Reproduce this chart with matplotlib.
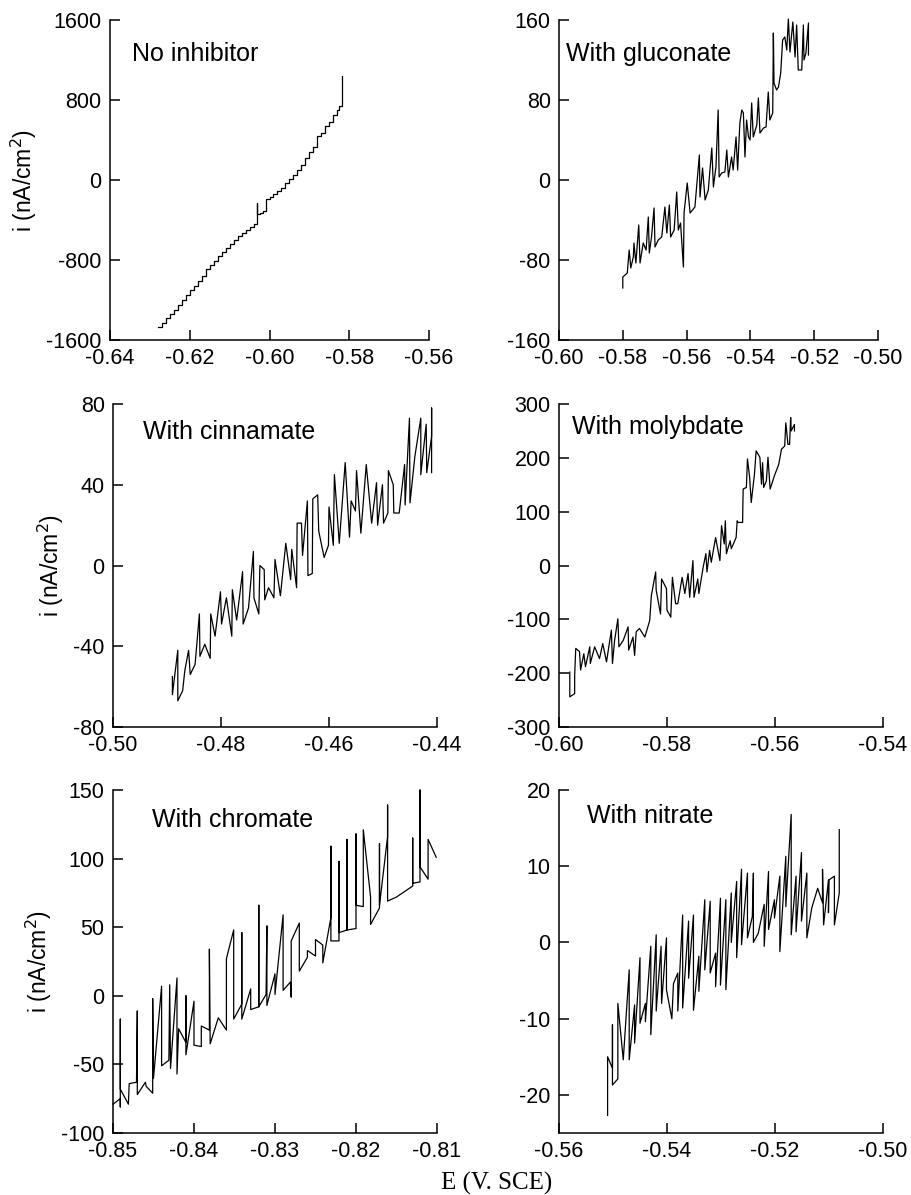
import matplotlib
matplotlib.use("Agg")
import matplotlib.pyplot as plt

plt.rcParams['font.family'] = ['Liberation Sans', 'DejaVu Sans']
plt.rcParams['axes.unicode_minus'] = False

# ---------------- data (E in V vs SCE, i in nA/cm^2) ----------------
no_inhibitor = [
    (-0.6280, -1470), (-0.6270, -1430), (-0.6260, -1380), (-0.6250, -1340), (-0.6240, -1300),
    (-0.6230, -1250), (-0.6220, -1200), (-0.6210, -1150), (-0.6200, -1100), (-0.6190, -1060),
    (-0.6180, -1010), (-0.6170, -960), (-0.6160, -890), (-0.6150, -850), (-0.6140, -810),
    (-0.6130, -760), (-0.6120, -720), (-0.6110, -680), (-0.6100, -640), (-0.6090, -600),
    (-0.6080, -560), (-0.6070, -530), (-0.6060, -500), (-0.6050, -470), (-0.6040, -440),
    (-0.6031, -420), (-0.6031, -230), (-0.6031, -340), (-0.6024, -330), (-0.6017, -310),
    (-0.6009, -300), (-0.6009, -190), (-0.6000, -170), (-0.5990, -140), (-0.5980, -110),
    (-0.5970, -80), (-0.5960, -30), (-0.5950, 10), (-0.5940, 50), (-0.5930, 100),
    (-0.5920, 150), (-0.5910, 220), (-0.5900, 280), (-0.5890, 330), (-0.5880, 440),
    (-0.5870, 470), (-0.5860, 540), (-0.5850, 580), (-0.5840, 650), (-0.5830, 700),
    (-0.5825, 740), (-0.5819, 750), (-0.5819, 1040),
]

gluconate = [
    (-0.5800, -108), (-0.5800, -97), (-0.5793, -95), (-0.5786, -93), (-0.5780, -70),
    (-0.5775, -88), (-0.5767, -77), (-0.5765, -63), (-0.5759, -83), (-0.5750, -45),
    (-0.5746, -83), (-0.5736, -63), (-0.5727, -70), (-0.5720, -37), (-0.5717, -73),
    (-0.5710, -57), (-0.5702, -28), (-0.5699, -67), (-0.5689, -60), (-0.5678, -57),
    (-0.5668, -27), (-0.5662, -53), (-0.5654, -25), (-0.5650, -57), (-0.5639, -50),
    (-0.5631, -12), (-0.5626, -50), (-0.5619, -43), (-0.5610, -87), (-0.5608, -33),
    (-0.5598, -3), (-0.5589, -33), (-0.5574, -27), (-0.5560, 25), (-0.5558, -17),
    (-0.5550, 12), (-0.5542, -20), (-0.5532, -10), (-0.5521, 32), (-0.5516, -7),
    (-0.5508, 13), (-0.5501, 70), (-0.5498, 3), (-0.5490, 7), (-0.5480, 8),
    (-0.5474, 30), (-0.5469, 3), (-0.5459, 23), (-0.5454, 10), (-0.5445, 43),
    (-0.5440, 10), (-0.5433, 57), (-0.5427, 70), (-0.5422, 67), (-0.5417, 23),
    (-0.5412, 60), (-0.5406, 43), (-0.5401, 40), (-0.5396, 77), (-0.5391, 43),
    (-0.5380, 55), (-0.5375, 82), (-0.5370, 47), (-0.5359, 52), (-0.5351, 53),
    (-0.5344, 88), (-0.5339, 60), (-0.5330, 67), (-0.5328, 147), (-0.5326, 97),
    (-0.5318, 90), (-0.5312, 93), (-0.5305, 107), (-0.5299, 140), (-0.5292, 143),
    (-0.5286, 130), (-0.5281, 161), (-0.5276, 128), (-0.5267, 158), (-0.5260, 123),
    (-0.5255, 155), (-0.5250, 110), (-0.5239, 110), (-0.5234, 155), (-0.5232, 120),
    (-0.5226, 127), (-0.5218, 157), (-0.5218, 125),
]

cinnamate = [
    (-0.4890, -55), (-0.4890, -64), (-0.4880, -42), (-0.4880, -67), (-0.4871, -62),
    (-0.4867, -52), (-0.4860, -42), (-0.4857, -54), (-0.4848, -49), (-0.4840, -24),
    (-0.4839, -45), (-0.4830, -39), (-0.4820, -46), (-0.4819, -24), (-0.4811, -35),
    (-0.4801, -13), (-0.4799, -29), (-0.4790, -16), (-0.4780, -35), (-0.4779, -12),
    (-0.4771, -27), (-0.4760, -3), (-0.4759, -29), (-0.4749, -21), (-0.4740, 7),
    (-0.4739, -16), (-0.4730, -24), (-0.4728, 0), (-0.4720, -2), (-0.4719, -17),
    (-0.4712, -11), (-0.4702, -16), (-0.4700, 3), (-0.4690, -15), (-0.4680, 11),
    (-0.4671, -7), (-0.4669, 8), (-0.4660, -11), (-0.4659, 21), (-0.4651, 21),
    (-0.4649, 5), (-0.4640, 32), (-0.4639, -5), (-0.4631, -4), (-0.4630, 33),
    (-0.4621, 35), (-0.4619, 17), (-0.4609, 4), (-0.4601, 10), (-0.4600, 29),
    (-0.4592, 10), (-0.4590, 45), (-0.4581, 11), (-0.4570, 51), (-0.4562, 14),
    (-0.4559, 32), (-0.4551, 27), (-0.4549, 47), (-0.4541, 16), (-0.4531, 50),
    (-0.4521, 21), (-0.4512, 41), (-0.4510, 20), (-0.4501, 40), (-0.4499, 21),
    (-0.4491, 26), (-0.4490, 47), (-0.4481, 40), (-0.4480, 26), (-0.4470, 26),
    (-0.4460, 50), (-0.4459, 30), (-0.4451, 73), (-0.4450, 31), (-0.4441, 54),
    (-0.4430, 73), (-0.4430, 45), (-0.4420, 70), (-0.4419, 46), (-0.4410, 64),
    (-0.4410, 78), (-0.4410, 46),
]

molybdate = [
    (-0.5980, -198), (-0.5980, -244), (-0.5971, -238), (-0.5971, -204), (-0.5969, -154),
    (-0.5962, -160), (-0.5960, -194), (-0.5954, -164), (-0.5951, -188), (-0.5943, -151),
    (-0.5942, -182), (-0.5934, -151), (-0.5925, -173), (-0.5919, -145), (-0.5912, -179),
    (-0.5903, -120), (-0.5901, -182), (-0.5897, -139), (-0.5891, -99), (-0.5889, -151),
    (-0.5881, -139), (-0.5872, -114), (-0.5871, -157), (-0.5863, -133), (-0.5860, -167),
    (-0.5857, -123), (-0.5851, -117), (-0.5841, -133), (-0.5832, -102), (-0.5829, -56),
    (-0.5821, -12), (-0.5820, -46), (-0.5812, -90), (-0.5810, -25), (-0.5801, -43),
    (-0.5800, -83), (-0.5793, -96), (-0.5790, -22), (-0.5784, -71), (-0.5780, -71),
    (-0.5772, -22), (-0.5767, -52), (-0.5761, -15), (-0.5758, -59), (-0.5752, 9),
    (-0.5750, -59), (-0.5743, -25), (-0.5741, -52), (-0.5733, -3), (-0.5728, 22),
    (-0.5726, -12), (-0.5721, 28), (-0.5718, 6), (-0.5710, 52), (-0.5702, 9),
    (-0.5699, 74), (-0.5694, 40), (-0.5692, 83), (-0.5690, 22), (-0.5683, 46),
    (-0.5681, 31), (-0.5672, 52), (-0.5670, 83), (-0.5669, 80), (-0.5660, 80),
    (-0.5659, 142), (-0.5653, 145), (-0.5651, 198), (-0.5647, 164), (-0.5644, 117),
    (-0.5638, 170), (-0.5635, 213), (-0.5628, 201), (-0.5625, 151), (-0.5623, 191),
    (-0.5621, 145), (-0.5616, 157), (-0.5613, 201), (-0.5609, 142), (-0.5601, 167),
    (-0.5593, 188), (-0.5588, 216), (-0.5582, 222), (-0.5580, 265), (-0.5576, 225),
    (-0.5573, 225), (-0.5571, 275), (-0.5570, 250), (-0.5564, 262), (-0.5564, 250),
]

chromate = [
    (-0.8500, -79), (-0.8491, -75), (-0.8491, -81), (-0.8491, -17), (-0.8491, -68),
    (-0.8481, -79), (-0.8480, -64), (-0.8471, -63), (-0.8470, -11), (-0.8470, -72),
    (-0.8460, -63), (-0.8459, -66), (-0.8451, -71), (-0.8451, -2), (-0.8450, -60),
    (-0.8440, 7), (-0.8440, -51), (-0.8431, -47), (-0.8430, 8), (-0.8429, -53),
    (-0.8421, 13), (-0.8421, -57), (-0.8419, -24), (-0.8410, -34), (-0.8410, 0),
    (-0.8410, -43), (-0.8400, -4), (-0.8400, -36), (-0.8391, -37), (-0.8391, -22),
    (-0.8381, -25), (-0.8381, 34), (-0.8380, -35), (-0.8370, -16), (-0.8360, -25),
    (-0.8360, 27), (-0.8351, 48), (-0.8351, -17), (-0.8341, -6), (-0.8341, 46),
    (-0.8341, -17), (-0.8330, 5), (-0.8330, -10), (-0.8320, -8), (-0.8320, 66),
    (-0.8320, -8), (-0.8311, 1), (-0.8310, 51), (-0.8310, -7), (-0.8300, 16),
    (-0.8300, 1), (-0.8290, 59), (-0.8290, 4), (-0.8281, 10), (-0.8280, -1),
    (-0.8280, 40), (-0.8270, 53), (-0.8270, 18), (-0.8260, 28), (-0.8260, 33),
    (-0.8250, 29), (-0.8250, 41), (-0.8241, 37), (-0.8241, 24), (-0.8231, 57),
    (-0.8231, 109), (-0.8231, 40), (-0.8221, 40), (-0.8221, 98), (-0.8221, 46),
    (-0.8211, 48), (-0.8211, 114), (-0.8211, 48), (-0.8200, 49), (-0.8200, 118),
    (-0.8200, 66), (-0.8191, 65), (-0.8191, 121), (-0.8182, 72), (-0.8182, 52),
    (-0.8171, 64), (-0.8171, 111), (-0.8171, 66), (-0.8161, 116), (-0.8161, 139),
    (-0.8161, 69), (-0.8150, 72), (-0.8130, 80), (-0.8130, 115), (-0.8130, 82),
    (-0.8121, 83), (-0.8121, 150), (-0.8121, 94), (-0.8111, 85), (-0.8111, 114),
    (-0.8101, 101),
]

nitrate = [
    (-0.5510, -22.7), (-0.5510, -15.0), (-0.5501, -16.5), (-0.5501, -10.8), (-0.5501, -18.7),
    (-0.5491, -17.9), (-0.5491, -8.0), (-0.5481, -15.4), (-0.5470, -3.6), (-0.5470, -15.4),
    (-0.5460, -8.2), (-0.5460, -13.2), (-0.5450, -2.0), (-0.5450, -10.6), (-0.5440, -8.0),
    (-0.5440, -10.4), (-0.5430, -0.5), (-0.5430, -12.1), (-0.5420, 1.0), (-0.5420, -9.0),
    (-0.5411, -0.5), (-0.5410, -8.0), (-0.5401, 0.6), (-0.5401, -6.2), (-0.5391, -10.0),
    (-0.5388, -5.4), (-0.5380, -4.0), (-0.5380, -9.0), (-0.5371, 3.6), (-0.5371, -8.6),
    (-0.5360, 2.8), (-0.5360, -4.7), (-0.5351, 3.6), (-0.5351, -8.9), (-0.5341, -1.8),
    (-0.5341, -6.4), (-0.5330, 5.6), (-0.5330, -3.6), (-0.5320, 5.4), (-0.5320, -4.0),
    (-0.5310, -1.4), (-0.5310, -5.8), (-0.5301, 5.8), (-0.5301, -5.6), (-0.5291, 5.6),
    (-0.5291, -6.2), (-0.5281, 6.5), (-0.5281, 0.0), (-0.5271, 8.0), (-0.5271, -2.0),
    (-0.5262, 9.6), (-0.5262, -0.3), (-0.5251, 9.1), (-0.5251, 0.6), (-0.5242, 3.4),
    (-0.5240, 9.1), (-0.5240, 0.0), (-0.5231, 1.2), (-0.5220, 5.0), (-0.5220, -0.5),
    (-0.5212, 9.3), (-0.5212, 1.7), (-0.5201, 5.6), (-0.5201, 3.2), (-0.5191, 8.7),
    (-0.5191, -1.2), (-0.5180, 11.3), (-0.5180, 4.7), (-0.5170, 16.8), (-0.5170, 1.0),
    (-0.5161, 8.7), (-0.5161, 1.4), (-0.5151, 11.8), (-0.5151, 2.8), (-0.5141, 9.1),
    (-0.5141, 0.6), (-0.5132, 4.5), (-0.5121, 7.1), (-0.5112, 5.2), (-0.5112, 9.6),
    (-0.5110, 2.3), (-0.5101, 8.2), (-0.5101, 3.9), (-0.5100, 8.2), (-0.5090, 8.7),
    (-0.5090, 2.3), (-0.5081, 6.5), (-0.5081, 14.8),
]

titles = ["No inhibitor", "With gluconate", "With cinnamate",
          "With molybdate", "With chromate", "With nitrate"]

xticks = [[-0.64, -0.62, -0.60, -0.58, -0.56],
          [-0.60, -0.58, -0.56, -0.54, -0.52, -0.50],
          [-0.50, -0.48, -0.46, -0.44],
          [-0.60, -0.58, -0.56, -0.54],
          [-0.85, -0.84, -0.83, -0.82, -0.81],
          [-0.56, -0.54, -0.52, -0.50]]
xticklabels = [["-0.64", "-0.62", "-0.60", "-0.58", "-0.56"],
               ["-0.60", "-0.58", "-0.56", "-0.54", "-0.52", "-0.50"],
               ["-0.50", "-0.48", "-0.46", "-0.44"],
               ["-0.60", "-0.58", "-0.56", "-0.54"],
               ["-0.85", "-0.84", "-0.83", "-0.82", "-0.81"],
               ["-0.56", "-0.54", "-0.52", "-0.50"]]
yticks = [[-1600, -800, 0, 800, 1600],
          [-160, -80, 0, 80, 160],
          [-80, -40, 0, 40, 80],
          [-300, -200, -100, 0, 100, 200, 300],
          [-100, -50, 0, 50, 100, 150],
          [-20, -10, 0, 10, 20]]
yticklabels = [["-1600", "-800", "0", "800", "1600"],
               ["-160", "-80", "0", "80", "160"],
               ["-80", "-40", "0", "40", "80"],
               ["-300", "-200", "-100", "0", "100", "200", "300"],
               ["-100", "-50", "0", "50", "100", "150"],
               ["-20", "-10", "0", "10", "20"]]
ylims = [(-1600, 1600), (-160, 160), (-80, 80), (-300, 300), (-100, 150), (-25, 20)]

series = [no_inhibitor, gluconate, cinnamate, molybdate, chromate, nitrate]
drawstyles = ["steps-post", "default", "default", "default", "default", "default"]

# ---------------- layout (pixel boxes: left, right, top, bottom) ----------------
W, H = 912, 1195
boxes = [(110, 429, 20, 340), (559, 878, 20, 340),
         (113, 437, 404, 727), (559, 883, 404, 727),
         (113, 437, 790, 1133), (559, 883, 790, 1133)]
title_pos = [(132, 61), (566, 61), (143, 439), (572, 434), (152, 827), (587, 823)]

fig = plt.figure(figsize=(W / 100, H / 100), dpi=100)

for k in range(6):
    l, r, t, b = boxes[k]
    ax = fig.add_axes([l / W, 1 - b / H, (r - l) / W, (b - t) / H])
    E = [p[0] for p in series[k]]
    I = [p[1] for p in series[k]]
    ax.plot(E, I, color="black", lw=0.9, drawstyle=drawstyles[k], clip_on=False)
    ax.set_xlim(xticks[k][0], xticks[k][-1])
    ax.set_ylim(*ylims[k])
    ax.set_xticks(xticks[k])
    ax.set_xticklabels(xticklabels[k])
    ax.set_yticks(yticks[k])
    ax.set_yticklabels(yticklabels[k])
    for s in ("top", "right"):
        ax.spines[s].set_visible(False)
    for s in ("left", "bottom"):
        ax.spines[s].set_linewidth(1.1)
    ax.tick_params(axis="both", direction="in", length=7.5, width=1.1,
                   labelsize=15.5, colors="black")
    ax.tick_params(axis="y", pad=6)
    ax.tick_params(axis="x", pad=6)
    if k % 2 == 0:
        ax.set_ylabel("i (nA/cm$^2$)", fontsize=16.5, labelpad=5)
    tx, ty = title_pos[k]
    fig.text(tx / W, 1 - ty / H, titles[k], fontsize=18, ha="left", va="baseline")

fig.text(441 / W, 1 - 1190 / H, "E (V. SCE)", fontsize=18, ha="left", va="baseline",
         family=["Liberation Serif", "DejaVu Serif"])

fig.savefig("out.png", dpi=100)
